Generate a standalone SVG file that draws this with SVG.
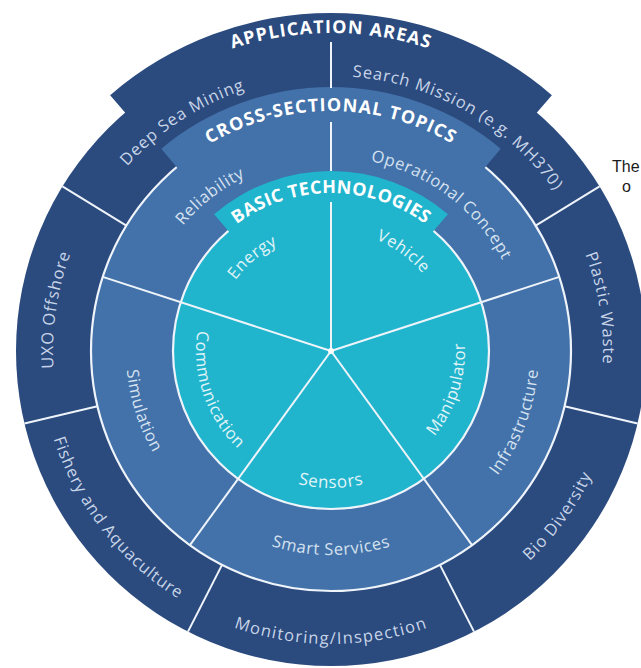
<svg xmlns="http://www.w3.org/2000/svg" width="641" height="668" viewBox="0 0 641 668">
<style>
.navy{fill:#2b4a7e}
.mid{fill:#4371a9}
.cyan{fill:#20b5cd}
.ring{stroke:#eef4fa;stroke-width:2.2}
.div{stroke:#eef4fa;stroke-width:2;fill:none;stroke-linecap:butt}
.hd{font-family:"Open Sans","Liberation Sans",sans-serif;font-weight:700;font-size:18px;fill:#ffffff;letter-spacing:1.1px}
.lb{font-family:"Open Sans","Liberation Sans",sans-serif;font-size:16.5px;letter-spacing:0.6px}
.la{fill:#c8d5e8;letter-spacing:0.9px}
.lc{fill:#d5e2f0}
.lt{fill:#e2f4f8}
.ext{font-family:"Liberation Sans","Open Sans",sans-serif;font-size:16px;fill:#1a1a1a}
</style>
<defs>
<path id="pApp" d="M32.18,242.24 A318,318 0 0 1 629.82,242.24"/>
<path id="pCross" d="M105.47,268.92 A240,240 0 0 1 556.53,268.92"/>
<path id="pBasic" d="M182.53,296.96 A158,158 0 0 1 479.47,296.96"/>
<path id="pDeep" d="M63.05,412.86 A275,275 0 0 1 496.5,131.37"/>
<path id="pSearch" d="M152.4,141.89 A275,275 0 0 1 602.23,396.39"/>
<path id="pPlastic" d="M382.9,84 A272,272 0 0 1 462.87,588.9"/>
<path id="pUXO" d="M198.35,595.31 A278,278 0 0 1 275.58,78.58"/>
<path id="pFish" d="M84.22,196.79 A291,291 0 0 0 420.92,627.76"/>
<path id="pMon" d="M55.67,451.21 A293,293 0 0 0 606.33,451.21"/>
<path id="pBio" d="M251.34,628.8 A289,289 0 0 0 570.59,189.39"/>
<path id="pRel" d="M146.49,410.95 A194,194 0 0 1 433.8,186.48"/>
<path id="pOp" d="M225.34,188.3 A194,194 0 0 1 516.52,407.72"/>
<path id="pInf" d="M327.37,558.97 A208,208 0 0 0 467.46,194.02"/>
<path id="pSmart" d="M139.3,420.77 A204,204 0 0 0 522.7,420.77"/>
<path id="pSim" d="M205.92,188.58 A205,205 0 0 0 322.41,555.82"/>
<path id="pEn" d="M219.18,391.7 A119,119 0 0 1 390.5,247.94"/>
<path id="pVeh" d="M263.9,251.52 A120,120 0 0 1 446.35,384.08"/>
<path id="pMan" d="M335.68,484.92 A134,134 0 0 0 413.5,245.41"/>
<path id="pSen" d="M202.26,397.86 A137,137 0 0 0 459.74,397.86"/>
<path id="pCom" d="M246.04,246.08 A135,135 0 0 0 328.64,485.98"/>
</defs>

<g id="application-areas">
<circle class="navy" cx="331" cy="351" r="315"/>
<path class="navy" d="M110.14,95.13 A338,338 0 0 1 551.86,95.13 L527.03,123.9 A300,300 0 0 0 134.97,123.9 Z"/>
</g>
<g id="cross-sectional-topics">
<circle class="mid ring" cx="331" cy="351" r="240"/>
<path class="mid" d="M161.3,148.77 A264,264 0 0 1 500.7,148.77 L475.63,178.64 A225,225 0 0 0 186.37,178.64 Z"/>
</g>
<g id="basic-technologies">
<circle class="cyan ring" cx="331" cy="351" r="158"/>
<path class="cyan" d="M214.1,214.13 A180,180 0 0 1 447.9,214.13 L425.17,240.74 A145,145 0 0 0 236.83,240.74 Z"/>
</g>

<g id="connectors">
<line class="div" x1="331" y1="351" x2="559.25" y2="276.84"/>
<line class="div" x1="331" y1="351" x2="102.75" y2="276.84"/>
<line class="div" x1="331" y1="351" x2="472.07" y2="545.16"/>
<line class="div" x1="331" y1="351" x2="189.93" y2="545.16"/>
<line class="div" x1="331" y1="351" x2="331" y2="202"/>
<line class="div" x1="331" y1="171" x2="331" y2="122"/>
<line class="div" x1="331" y1="88" x2="331" y2="42"/>
<line class="div" x1="126.37" y1="225.6" x2="62.42" y2="186.41"/>
<line class="div" x1="535.63" y1="225.6" x2="599.58" y2="186.41"/>
<line class="div" x1="97.44" y1="406.21" x2="24.45" y2="423.47"/>
<line class="div" x1="564.56" y1="406.21" x2="637.55" y2="423.47"/>
<line class="div" x1="439.96" y1="564.84" x2="474.01" y2="631.67"/>
<line class="div" x1="222.04" y1="564.84" x2="187.99" y2="631.67"/>
<circle cx="331" cy="351" r="3" fill="#ffffff"/>
</g>

<g id="headers">
<text class="hd"><textPath href="#pApp" startOffset="50%" text-anchor="middle">APPLICATION AREAS</textPath></text>
<text class="hd"><textPath href="#pCross" startOffset="50%" text-anchor="middle">CROSS-SECTIONAL TOPICS</textPath></text>
<text class="hd" style="letter-spacing:0.4px"><textPath href="#pBasic" startOffset="50%" text-anchor="middle">BASIC TECHNOLOGIES</textPath></text>
</g>

<g id="app-labels">
<text class="lb la"><textPath href="#pDeep" startOffset="50%" text-anchor="middle">Deep Sea Mining</textPath></text>
<text class="lb la"><textPath href="#pSearch" startOffset="50%" text-anchor="middle">Search Mission (e.g. MH370)</textPath></text>
<text class="lb la"><textPath href="#pPlastic" startOffset="50%" text-anchor="middle">Plastic Waste</textPath></text>
<text class="lb la"><textPath href="#pUXO" startOffset="50%" text-anchor="middle">UXO Offshore</textPath></text>
<text class="lb la"><textPath href="#pFish" startOffset="50%" text-anchor="middle">Fishery and Aquaculture</textPath></text>
<text class="lb la" style="letter-spacing:1.3px"><textPath href="#pMon" startOffset="50%" text-anchor="middle">Monitoring/Inspection</textPath></text>
<text class="lb la"><textPath href="#pBio" startOffset="50%" text-anchor="middle">Bio Diversity</textPath></text>
</g>

<g id="cross-labels">
<text class="lb lc"><textPath href="#pRel" startOffset="50%" text-anchor="middle">Reliability</textPath></text>
<text class="lb lc"><textPath href="#pOp" startOffset="50%" text-anchor="middle">Operational Concept</textPath></text>
<text class="lb lc"><textPath href="#pInf" startOffset="50%" text-anchor="middle">Infrastructure</textPath></text>
<text class="lb lc"><textPath href="#pSmart" startOffset="50%" text-anchor="middle">Smart Services</textPath></text>
<text class="lb lc"><textPath href="#pSim" startOffset="50%" text-anchor="middle">Simulation</textPath></text>
</g>

<g id="basic-labels">
<text class="lb lt"><textPath href="#pEn" startOffset="50%" text-anchor="middle">Energy</textPath></text>
<text class="lb lt"><textPath href="#pVeh" startOffset="50%" text-anchor="middle">Vehicle</textPath></text>
<text class="lb lt"><textPath href="#pMan" startOffset="50%" text-anchor="middle">Manipulator</textPath></text>
<text class="lb lt" style="font-size:17px"><textPath href="#pSen" startOffset="50%" text-anchor="middle">Sensors</textPath></text>
<text class="lb lt"><textPath href="#pCom" startOffset="50%" text-anchor="middle">Communication</textPath></text>
</g>

<g id="page-text">
<text class="ext" x="612" y="172">The</text>
<text class="ext" x="622" y="192">o</text>
</g>
</svg>
